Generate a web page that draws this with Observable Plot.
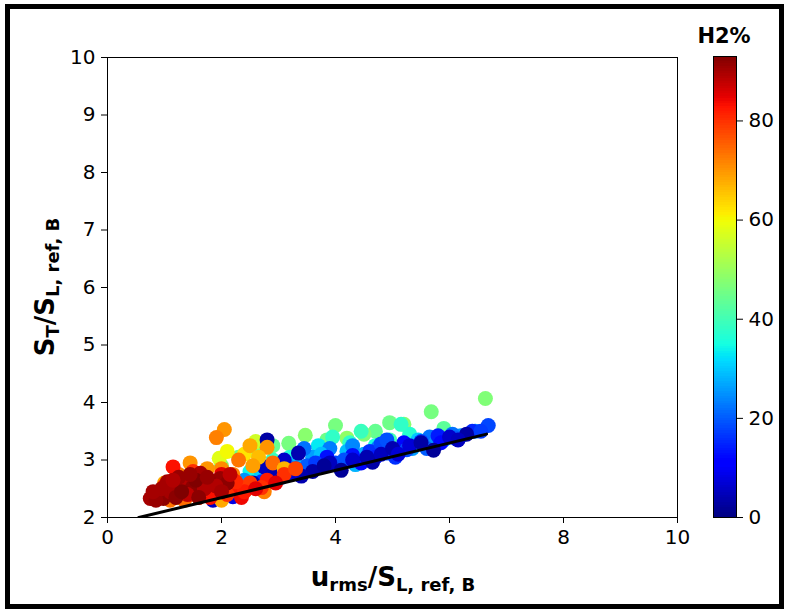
<!DOCTYPE html>
<html>
<head>
<meta charset="utf-8">
<script src="https://cdn.jsdelivr.net/npm/d3@7"></script>
<script src="https://cdn.jsdelivr.net/npm/@observablehq/plot@0.6"></script>
<style>
  html, body { margin: 0; padding: 0; background: #fff; }
  #wrap { position: relative; width: 788px; height: 612px; overflow: hidden; }
  #wrap svg { position: absolute; top: 0; }
</style>
</head>
<body>
<div id="wrap"></div>
<script>
// u_rms / S_L,ref,B
const urms = [
  // ~45% H2
  6.63,5.68,4.95,5.2,4.7,4.5,4.0,4.2,3.85,3.47,3.18,2.9,2.6,2.3,2.0,1.7,1.4,1.15,5.9,2.45,1.8,1.0,
  // ~60%
  1.96,2.1,2.6,2.4,1.3,1.0,1.65,2.2,0.85,
  // ~36%
  5.3,4.7,4.25,3.7,3.2,2.9,2.5,2.2,1.5,5.85,4.95,3.95,1.2,5.15,4.45,
  // ~26%
  6.2,5.9,5.65,5.35,5.0,4.75,4.5,4.2,3.9,3.6,3.3,3.0,2.7,2.4,2.1,1.8,3.45,4.05,6.45,4.35,
  2.85,3.15,3.75,4.3,4.85,5.45,6.05,2.3,2.0,5.75,
  // ~16%
  6.68,6.4,6.1,5.8,5.5,5.2,4.9,4.6,4.3,4.0,3.75,3.5,3.2,2.95,2.6,4.45,5.05,5.6,3.85,4.8,
  2.7,3.05,3.65,4.15,4.7,5.25,5.85,6.55,3.3,4.9,
  // ~5%
  2.4,2.75,2.8,3.1,3.35,3.0,3.6,3.9,4.1,4.3,4.65,4.8,5.0,5.3,5.72,6.0,6.3,2.2,1.85,3.4,
  2.55,3.25,3.8,4.55,5.1,5.5,6.15,2.9,
  // ~70%
  2.05,1.91,2.5,2.8,2.3,2.65,2.0,2.9,1.45,1.25,1.0,0.95,1.6,2.45,1.2,3.1,
  1.75,2.2,1.35,2.0,2.75,2.55,1.1,
  // ~82%
  1.0,1.3,1.6,1.9,2.2,2.5,2.8,3.1,3.3,2.0,1.5,1.15,0.9,2.35,2.7,1.75,2.95,1.2,
  1.8,2.1,2.4,1.45,1.05,2.6,2.25,1.35,
  // ~90%
  0.75,0.98,1.16,1.33,1.49,1.63,1.98,1.8,1.1,1.4,0.88,1.25,1.7,2.1,1.55,1.05,0.85,2.15,
  0.95,1.2,1.45,1.9,1.6,0.8,1.3,2.0,1.75,1.15
];
// S_T / S_L,ref,B
const stRatio = [
  4.07,3.84,3.65,3.62,3.5,3.45,3.6,3.38,3.35,3.43,3.29,3.25,3.15,3.05,2.9,2.75,2.55,2.4,3.55,2.55,2.42,2.35,
  3.03,3.15,3.32,3.1,2.65,2.5,2.45,2.38,2.4,
  3.45,3.25,3.3,3.25,3.05,3.0,2.8,2.65,2.4,3.38,3.35,3.4,2.35,3.62,3.5,
  3.42,3.35,3.4,3.2,3.15,3.22,3.1,3.15,3.2,3.05,2.95,2.85,2.78,2.65,2.5,2.45,3.2,2.9,3.5,2.92,
  2.7,2.9,3.1,3.25,3.2,3.35,3.45,2.55,2.42,3.28,
  3.6,3.5,3.38,3.42,3.32,3.3,3.12,3.15,3.08,2.95,2.88,2.9,2.75,2.68,2.55,2.95,3.05,3.2,3.05,3.28,
  2.62,2.7,2.95,3.0,3.05,3.18,3.3,3.5,2.85,3.35,
  2.5,2.88,3.35,3.0,3.12,2.7,2.8,2.95,2.82,3.0,2.96,3.1,3.2,3.25,3.17,3.4,3.45,2.36,2.3,2.72,
  2.6,2.8,2.9,3.05,3.1,3.3,3.35,2.75,
  3.53,3.39,3.25,3.22,3.0,3.05,2.85,2.95,2.95,2.75,2.6,2.35,2.35,2.5,2.35,2.85,
  2.85,2.75,2.3,2.3,2.45,2.9,2.3,
  2.55,2.65,2.5,2.45,2.5,2.6,2.65,2.75,2.85,2.75,2.8,2.88,2.42,2.35,2.52,2.38,2.6,2.45,
  2.35,2.4,2.45,2.4,2.45,2.5,2.62,2.5,
  2.33,2.33,2.56,2.61,2.52,2.77,2.68,2.6,2.45,2.4,2.42,2.7,2.5,2.6,2.65,2.62,2.3,2.75,
  2.5,2.35,2.75,2.55,2.35,2.45,2.45,2.45,2.7,2.65
];
// H2 %
const h2pct = [
  47,46,45,48,44,47,46,49,45,48,46,44,47,45,48,46,44,47,43,45,49,50,
  58,60,56,62,57,59,61,55,58,
  37,35,38,33,36,39,34,38,36,33,40,38,35,38,39,
  25,28,22,26,30,24,27,29,23,26,28,24,30,25,27,29,22,25,24,28,
  27,23,29,24,26,30,22,26,28,25,
  18,15,20,14,17,12,19,16,13,18,15,20,14,17,19,12,16,20,13,18,
  16,13,17,19,14,18,12,17,15,19,
  4,5,3,6,4,7,3,5,2,6,3,5,4,7,2,6,3,8,5,4,
  3,6,2,4,7,3,5,4,
  70,72,68,70,73,66,71,74,70,72,68,75,70,73,69,67,
  70,72,74,68,72,69,73,
  82,80,84,81,83,79,82,80,78,85,80,83,81,84,80,82,85,79,
  83,80,82,81,84,85,81,83,
  90,92,91,89,92,90,91,93,90,88,92,91,89,92,93,90,91,88,
  90,92,91,89,92,90,93,90,91,89
];
// reference fit line
const fitX = [0.55, 6.65];
const fitY = [2.0, 3.45];

const xTicks = [0, 2, 4, 6, 8, 10];
const yTicks = [2, 3, 4, 5, 6, 7, 8, 9, 10];
const cbTicks = [0, 20, 40, 60, 80];
const cbMax = 93;

const pts = urms.map((x, i) => ({x, y: stRatio[i], h: h2pct[i]}));
const fit = fitX.map((x, i) => ({x, y: fitY[i]}));

// matplotlib "jet"
function seg(t, s) {
  for (let i = 1; i < s.length; i++) {
    if (t <= s[i][0]) {
      const [t0, v0] = s[i - 1], [t1, v1] = s[i];
      return v0 + (v1 - v0) * (t - t0) / (t1 - t0);
    }
  }
  return s[s.length - 1][1];
}
function jet(t) {
  t = Math.max(0, Math.min(1, t));
  const r = seg(t, [[0,0],[0.35,0],[0.66,1],[0.89,1],[1,0.5]]);
  const g = seg(t, [[0,0],[0.125,0],[0.375,1],[0.64,1],[0.91,0],[1,0]]);
  const b = seg(t, [[0,0.5],[0.11,1],[0.34,1],[0.65,0],[1,0]]);
  return `rgb(${Math.round(r*255)},${Math.round(g*255)},${Math.round(b*255)})`;
}
const colorOpts = {type: "linear", domain: [0, cbMax], interpolate: jet};
const font = {fontFamily: "'DejaVu Sans', sans-serif", fontSize: "20px", color: "#000", background: "transparent", overflow: "visible"};

const main = Plot.plot({
  width: 788, height: 612,
  marginLeft: 107, marginRight: 111, marginTop: 57, marginBottom: 95,
  style: font,
  x: {domain: [0, 10], label: null},
  y: {domain: [2, 10], label: null},
  color: colorOpts,
  marks: [
    Plot.dot(pts, {x: "x", y: "y", fill: "h", r: 7.5}),
    Plot.line(fit, {x: "x", y: "y", stroke: "#000", strokeWidth: 3, clip: true}),
    Plot.frame({stroke: "#000", strokeWidth: 1}),
    Plot.axisX({ticks: xTicks, tickSize: 6, tickPadding: 6, fontSize: 20, tickFormat: d => d}),
    Plot.axisY({ticks: yTicks, tickSize: 6, tickPadding: 6, fontSize: 20, tickFormat: d => d})
  ]
});

const step = 0.5;
const stops = d3.range(0, cbMax, step);
const cbar = Plot.plot({
  width: 88, height: 612,
  marginLeft: 13, marginRight: 52, marginTop: 56, marginBottom: 95,
  style: font,
  x: {domain: [0, 1], axis: null},
  y: {domain: [0, cbMax], label: null},
  color: colorOpts,
  marks: [
    Plot.rect(stops, {x1: 0, x2: 1, y1: d => d, y2: d => Math.min(cbMax, d + step * 2), fill: d => d + step / 2, shapeRendering: "crispEdges"}),
    Plot.frame({stroke: "#000", strokeWidth: 1}),
    Plot.axisY({anchor: "right", ticks: cbTicks, tickSize: 6, tickPadding: 6, fontSize: 20, tickFormat: d => d})
  ]
});

const wrap = document.getElementById("wrap");
main.style.left = "0px";
cbar.style.left = "700px";
wrap.appendChild(main);
wrap.appendChild(cbar);

// axis titles, colorbar title and figure border
const svg = d3.select(main);
const fam = "'DejaVu Sans', sans-serif";
const xl = svg.append("text").attr("x", 393).attr("y", 586).attr("text-anchor", "middle")
  .attr("font-family", fam).attr("font-weight", "bold").attr("font-size", 26).attr("fill", "#000");
xl.append("tspan").text("u");
xl.append("tspan").attr("font-size", 18).attr("dy", 5).text("rms");
xl.append("tspan").attr("dy", -5).text("/S");
xl.append("tspan").attr("font-size", 18).attr("dy", 5).text("L, ref, B");

const yl = svg.append("text").attr("transform", "translate(54,287) rotate(-90)").attr("text-anchor", "middle")
  .attr("font-family", fam).attr("font-weight", "bold").attr("font-size", 26).attr("fill", "#000");
yl.append("tspan").text("S");
yl.append("tspan").attr("font-size", 18).attr("dy", 5).text("T");
yl.append("tspan").attr("dy", -5).text("/S");
yl.append("tspan").attr("font-size", 18).attr("dy", 5).text("L, ref, B");

svg.append("text").attr("x", 724).attr("y", 43).attr("text-anchor", "middle")
  .attr("font-family", fam).attr("font-weight", "bold").attr("font-size", 21).attr("fill", "#000").text("H2%");

svg.append("rect").attr("x", 7.5).attr("y", 6.5).attr("width", 774).attr("height", 600)
  .attr("fill", "none").attr("stroke", "#000").attr("stroke-width", 5);
</script>
</body>
</html>
